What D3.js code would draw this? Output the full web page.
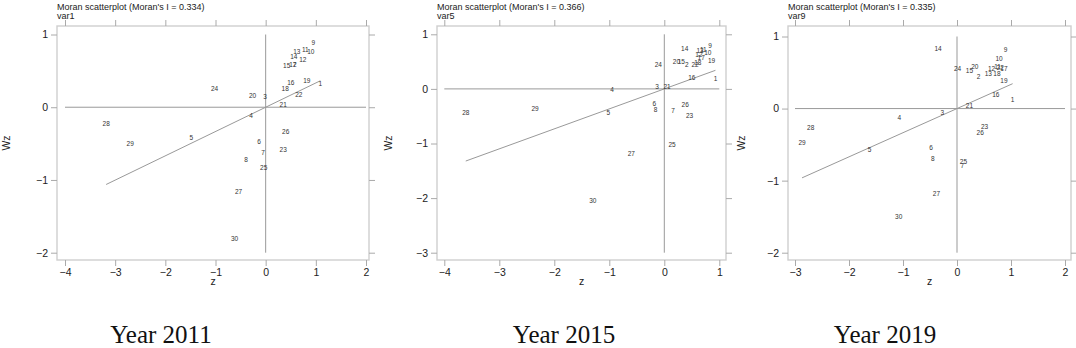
<!DOCTYPE html>
<html>
<head>
<meta charset="utf-8">
<script src="https://d3js.org/d3.v7.min.js"></script>
<style>
  body { margin: 0; background: #fff; }
  svg { display: block; }
</style>
</head>
<body>
<script>
  // region ids used as point labels
  var ids = d3.range(1, 31);

  // standardised values (z) and spatial lags (Wz), ordered by id
  var z2011 = [1.09, 0.58, -0.01, -0.29, -1.48, -0.13, -0.05, -0.39, 0.95, 0.90,
               0.79, 0.74, 0.62, 0.56, 0.42, 0.50, 0.54, 0.39, 0.82, -0.26,
               0.35, 0.66, 0.35, -1.02, -0.04, 0.40, -0.54, -3.18, -2.70, -0.62];
  var wz2011 = [0.32, 0.58, 0.15, -0.11, -0.42, -0.48, -0.62, -0.72, 0.89, 0.76,
                0.79, 0.66, 0.76, 0.69, 0.57, 0.34, 0.58, 0.26, 0.37, 0.16,
                0.04, 0.17, -0.58, 0.26, -0.83, -0.33, -1.16, -0.23, -0.50, -1.81];

  var z2015 = [0.93, 0.41, -0.13, -0.95, -1.02, -0.18, 0.16, -0.16, 0.83, 0.79,
               0.71, 0.63, 0.65, 0.37, 0.31, 0.50, 0.67, 0.61, 0.86, 0.22,
               0.05, 0.56, 0.46, -0.11, 0.14, 0.38, -0.60, -3.61, -2.35, -1.30];
  var wz2015 = [0.18, 0.44, 0.04, -0.02, -0.43, -0.28, -0.40, -0.38, 0.79, 0.66,
                0.71, 0.62, 0.70, 0.74, 0.49, 0.20, 0.57, 0.48, 0.51, 0.49,
                0.04, 0.45, -0.49, 0.45, -1.02, -0.29, -1.19, -0.44, -0.37, -2.05];

  var z2019 = [1.03, 0.40, -0.27, -1.07, -1.62, -0.48, 0.10, -0.45, 0.90, 0.78,
               0.75, 0.64, 0.58, -0.35, 0.23, 0.72, 0.87, 0.74, 0.87, 0.33,
               0.23, 0.80, 0.51, 0.01, 0.12, 0.43, -0.38, -2.71, -2.87, -1.08];
  var wz2019 = [0.12, 0.44, -0.06, -0.13, -0.57, -0.54, -0.79, -0.70, 0.82, 0.69,
                0.58, 0.55, 0.48, 0.83, 0.52, 0.19, 0.55, 0.48, 0.38, 0.58,
                0.04, 0.56, -0.25, 0.55, -0.74, -0.33, -1.18, -0.27, -0.48, -1.50];

  var years = ["2011", "2015", "2019"];
  var varNames = ["var1", "var5", "var9"];
  var moranI = [0.334, 0.366, 0.335];
  var xTicks = [[-4, -3, -2, -1, 0, 1, 2], [-4, -3, -2, -1, 0, 1], [-3, -2, -1, 0, 1, 2]];
  var yTicks = [[-2, -1, 0, 1], [-3, -2, -1, 0, 1], [-2, -1, 0, 1]];

  var zs = [z2011, z2015, z2019],
    wzs = [wz2011, wz2015, wz2019];

  // panel layout (pixels)
  var panels = [
    { frame: [57, 369], xr: [65, 366], yr: [252.7, 34.5], wzX: 6, cap: 161 },
    { frame: [437, 726], xr: [444.3, 719.3], yr: [252.7, 34.3], wzX: 388, cap: 564 },
    { frame: [788, 1071], xr: [795, 1065], yr: [252.7, 36.5], wzX: 741, cap: 885 }
  ];
  var frameTop = 26, frameBottom = 260, tickLen = 6;

  var svg = d3.select("body").append("svg")
    .attr("width", 1076)
    .attr("height", 348)
    .style("font-family", "'Liberation Sans', Arial, sans-serif");

  panels.forEach(function(p, k) {
    var xt = xTicks[k], yt = yTicks[k];
    var x = d3.scaleLinear().domain([xt[0], xt[xt.length - 1]]).range(p.xr);
    var y = d3.scaleLinear().domain([yt[0], yt[yt.length - 1]]).range(p.yr);
    var g = svg.append("g");

    // frame
    g.append("rect")
      .attr("x", p.frame[0]).attr("y", frameTop)
      .attr("width", p.frame[1] - p.frame[0]).attr("height", frameBottom - frameTop)
      .attr("fill", "none").attr("stroke", "#cfcfcf").attr("stroke-width", 1.4);

    // axes on all four sides, labels only left/bottom
    var ax = function(gen, tx, ty, labels) {
      var a = g.append("g").attr("transform", "translate(" + tx + "," + ty + ")")
        .call(gen.tickSizeOuter(0).tickSize(tickLen).tickPadding(3)
          .tickFormat(labels ? d3.format("d") : ""));
      a.select(".domain").remove();
      a.selectAll(".tick line").attr("stroke", "#aaa");
      a.selectAll(".tick text").attr("fill", "#222").style("font-size", "10.5px")
        .style("font-family", "'Liberation Sans', Arial, sans-serif");
    };
    ax(d3.axisBottom(x).tickValues(xt), 0, frameBottom, true);
    ax(d3.axisTop(x).tickValues(xt), 0, frameTop, false);
    ax(d3.axisLeft(y).tickValues(yt), p.frame[0], 0, true);
    ax(d3.axisRight(y).tickValues(yt), p.frame[1], 0, false);

    // quadrant lines
    g.append("line")
      .attr("x1", x(xt[0])).attr("x2", x(xt[xt.length - 1]))
      .attr("y1", y(0)).attr("y2", y(0))
      .attr("stroke", "#999").attr("stroke-width", 1);
    g.append("line")
      .attr("x1", x(0)).attr("x2", x(0))
      .attr("y1", y(yt[yt.length - 1])).attr("y2", y(yt[0]))
      .attr("stroke", "#999").attr("stroke-width", 1);

    // fitted line, slope = Moran's I
    var ext = d3.extent(zs[k]);
    g.append("line")
      .attr("x1", x(ext[0])).attr("y1", y(ext[0] * moranI[k]))
      .attr("x2", x(ext[1])).attr("y2", y(ext[1] * moranI[k]))
      .attr("stroke", "#999").attr("stroke-width", 1);

    // point labels
    g.selectAll("text.pt")
      .data(ids)
      .enter().append("text")
      .attr("class", "pt")
      .attr("x", function(d, i) { return x(zs[k][i]); })
      .attr("y", function(d, i) { return y(wzs[k][i]); })
      .attr("dy", "0.35em")
      .attr("text-anchor", "middle")
      .attr("fill", "#333")
      .style("font-size", "6.5px")
      .text(function(d) { return d; });

    // titles
    g.append("text")
      .attr("x", p.frame[0]).attr("y", 9.5)
      .style("font-size", "9px").attr("fill", "#222")
      .text("Moran scatterplot (Moran's I = " + moranI[k].toFixed(3) + ")");
    g.append("text")
      .attr("x", p.frame[0]).attr("y", 19)
      .style("font-size", "9px").attr("fill", "#222")
      .text(varNames[k]);

    // axis titles
    g.append("text")
      .attr("x", (p.frame[0] + p.frame[1]) / 2).attr("y", 285)
      .attr("text-anchor", "middle")
      .style("font-size", "10.5px").attr("fill", "#222")
      .text("z");
    g.append("text")
      .attr("transform", "translate(" + (p.wzX + 4) + ",143) rotate(-90)")
      .attr("text-anchor", "middle")
      .style("font-size", "10.5px").attr("fill", "#222")
      .text("Wz");

    // year caption
    g.append("text")
      .attr("x", p.cap).attr("y", 342.5)
      .attr("text-anchor", "middle")
      .style("font-family", "'Liberation Serif', 'Times New Roman', serif")
      .style("font-size", "25px").attr("fill", "#111")
      .text("Year " + years[k]);
  });
</script>
</body>
</html>
